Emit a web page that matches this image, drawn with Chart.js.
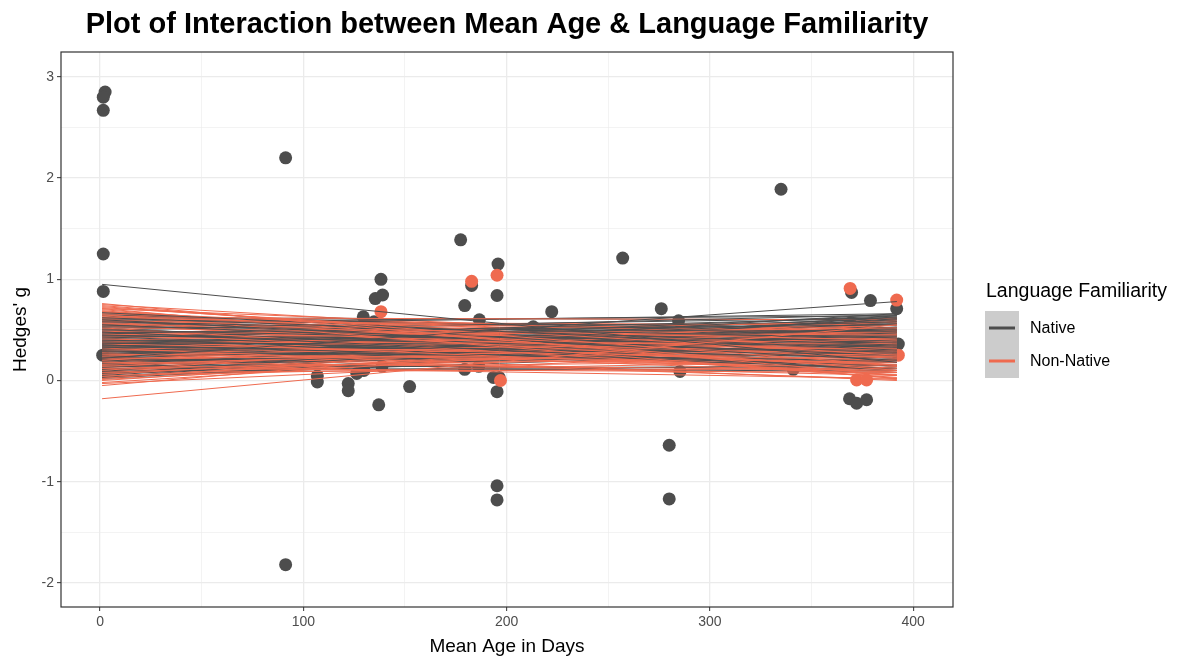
<!DOCTYPE html>
<html><head><meta charset="utf-8">
<script src="https://cdn.jsdelivr.net/npm/chart.js@4"></script>
<style>html,body{margin:0;padding:0;background:#fff;}canvas{display:block;}</style>
</head><body>
<canvas id="c" width="1189" height="658"></canvas>
<script>
// ---- data ----
const NATIVE_AGE = [2.5,1.6,1.6,1.6,1.6,1.3,91.3,91.3,106.9,106.9,122.1,122.1,126.3,129.5,129.8,134.8,135.4,137.1,138.2,139.0,138.7,152.3,177.4,179.4,179.4,182.8,186.6,186.3,193.5,196.3,195.3,195.3,195.3,195.8,195.3,213.1,222.2,257.1,276.1,284.6,285.3,280,280,335,341,369,369.7,368.7,372.2,377.1,379,391.9,392.7];
const NATIVE_G = [2.85,2.80,2.67,1.25,0.88,0.25,2.20,-1.82,0.045,-0.015,-0.03,-0.10,0.07,0.63,0.10,0.58,0.81,-0.24,1.00,0.845,0.14,-0.06,1.39,0.74,0.11,0.94,0.60,0.14,0.03,0.03,-0.11,-1.04,-1.18,1.15,0.84,0.53,0.68,1.21,0.71,0.59,0.09,-0.64,-1.17,1.89,0.11,0.565,0.87,-0.18,-0.225,-0.19,0.79,0.71,0.36];
const NONNATIVE_AGE = [138.2,182.8,195.3,197,369,391.9,392.7,372.2,377.1];
const NONNATIVE_G = [0.68,0.98,1.04,0.0,0.91,0.795,0.25,0.005,0.005];

const LINE_AGE = [1, 392];
const NATIVE_LINE_START = [0.95,0.22,0.67,0.62,0.60,0.58,0.55,0.53,0.50,0.48,0.47,0.45,0.44,0.42,0.40,0.39,0.37,0.36,0.35,0.34,0.33,0.32,0.30,0.29,0.28,0.27,0.25,0.24,0.23,0.21,0.20,0.19,0.17,0.16,0.14,0.13,0.11,0.10,0.08,0.06,0.05,0.03,0.52,0.46,0.38,0.31,0.26,0.57,0.43,0.35,
  0.62,0.58,0.55,0.50,0.12,0.09,0.15,0.18,0.65,0.60,0.54,0.49,0.45,0.41,0.37,0.33,0.29,0.26,0.22,0.19,0.15,0.11,0.07,0.04,0.02,0.64,0.59,0.51,0.47,0.44,0.39,0.36,0.31,0.28,0.24,0.21,0.18,0.13,0.09,0.06,0.66,0.61,0.56,0.48,0.42,0.38,0.34,0.30,0.23,0.16];
const NATIVE_LINE_END = [0.18,0.78,0.30,0.35,0.20,0.42,0.25,0.48,0.33,0.12,0.55,0.28,0.40,0.62,0.22,0.45,0.35,0.58,0.15,0.50,0.30,0.64,0.38,0.20,0.52,0.44,0.60,0.32,0.47,0.56,0.27,0.66,0.40,0.53,0.61,0.35,0.49,0.58,0.43,0.63,0.52,0.60,0.10,0.65,0.12,0.56,0.24,0.37,0.18,0.61,
  0.60,0.64,0.66,0.62,0.10,0.15,0.12,0.08,0.45,0.52,0.56,0.38,0.50,0.33,0.47,0.41,0.36,0.50,0.42,0.30,0.45,0.28,0.36,0.30,0.45,0.14,0.28,0.22,0.30,0.58,0.26,0.40,0.18,0.62,0.38,0.21,0.50,0.55,0.64,0.48,0.25,0.48,0.32,0.44,0.14,0.55,0.24,0.50,0.60,0.34];
const NONNATIVE_LINE_START = [-0.18,0.76,0.74,0.72,0.70,0.68,0.65,0.63,0.60,0.58,0.56,0.54,0.52,0.50,0.48,0.46,0.44,0.42,0.40,0.38,0.36,0.34,0.32,0.30,0.28,0.26,0.24,0.22,0.20,0.18,0.16,0.14,0.12,0.10,0.08,0.06,0.04,0.02,-0.02,-0.05,0.66,0.62,0.57,0.49,0.45,0.41,0.37,0.33,0.27,0.19,
  0.62,0.58,0.12,0.08,0.15,0.05,0.75,0.73,0.71,0.69,0.67,0.64,0.61,0.59,0.55,0.53,0.51,0.47,0.43,0.39,0.35,0.31,0.29,0.25,0.23,0.21,0.17,0.13,0.11,0.07,0.03,0.00,-0.03,0.71,0.68,0.64,0.60,0.55,0.52,0.48,0.44,0.40,0.36,0.32,0.28,0.24,0.20,0.16,0.09,0.01];
const NONNATIVE_LINE_END = [0.55,0.05,0.15,0.25,0.10,0.30,0.02,0.20,0.35,0.12,0.40,0.22,0.05,0.30,0.45,0.15,0.28,0.52,0.08,0.36,0.20,0.48,0.00,0.32,0.55,0.18,0.42,0.26,0.58,0.10,0.38,0.48,0.24,0.60,0.34,0.50,0.42,0.56,0.46,0.62,0.38,0.46,0.03,0.14,0.58,0.27,0.06,0.40,0.01,0.44,
  0.60,0.55,0.08,0.12,0.02,0.20,0.30,0.18,0.40,0.08,0.22,0.48,0.14,0.28,0.50,0.36,0.10,0.25,0.44,0.16,0.52,0.30,0.12,0.48,0.05,0.35,0.52,0.40,0.20,0.58,0.38,0.50,0.32,0.02,0.15,0.32,0.05,0.24,0.42,0.08,0.36,0.55,0.12,0.24,0.44,0.60,0.18,0.28,0.46,0.40];

const X_GRID = [0,50,100,150,200,250,300,350,400];
const X_LABELS = [0,100,200,300,400];
const Y_GRID = [-2,-1.5,-1,-0.5,0,0.5,1,1.5,2,2.5,3];
const Y_LABELS = [-2,-1,0,1,2,3];

const TITLE = "Plot of Interaction between Mean Age & Language Familiarity";
const X_TITLE = "Mean Age in Days";
const Y_TITLE = "Hedges' g";
const LEGEND_TITLE = "Language Familiarity";
const GROUPS = ["Native", "Non-Native"];
const COLORS = ["#4D4D4D", "#EF6A4F"];
const FONT = '"Liberation Sans", Arial, Helvetica, sans-serif';

// ---- datasets ----
const datasets = [];
const n = Math.max(NATIVE_LINE_START.length, NONNATIVE_LINE_START.length);
for (let i = 0; i < n; i++) {
  if (i < NONNATIVE_LINE_START.length) {
    datasets.push({type:'line', order:0, data:[{x:LINE_AGE[0], y:NONNATIVE_LINE_START[i]},{x:LINE_AGE[1], y:NONNATIVE_LINE_END[i]}],
      borderColor:COLORS[1], borderWidth:1, pointRadius:0, fill:false, tension:0});
  }
  if (i < NATIVE_LINE_START.length) {
    datasets.push({type:'line', order:0, data:[{x:LINE_AGE[0], y:NATIVE_LINE_START[i]},{x:LINE_AGE[1], y:NATIVE_LINE_END[i]}],
      borderColor:COLORS[0], borderWidth:1, pointRadius:0, fill:false, tension:0});
  }
}
datasets.push({type:'scatter', order:5, label:GROUPS[1], data:NONNATIVE_AGE.map((x,i)=>({x, y:NONNATIVE_G[i]})),
  backgroundColor:COLORS[1], borderWidth:0, pointRadius:6.5});
datasets.push({type:'scatter', order:6, label:GROUPS[0], data:NATIVE_AGE.map((x,i)=>({x, y:NATIVE_G[i]})),
  backgroundColor:COLORS[0], borderWidth:0, pointRadius:6.5});

const decor = {
  id:'decor',
  afterDatasetsDraw(chart){
    const {ctx, chartArea:a} = chart;
    ctx.save();
    ctx.strokeStyle = '#333333'; ctx.lineWidth = 1.2;
    ctx.strokeRect(a.left, a.top, a.right - a.left, a.bottom - a.top);
    ctx.restore();
  },
  afterDraw(chart){
    const {ctx, chartArea:a} = chart;
    ctx.save();
    ctx.fillStyle = '#000';
    ctx.font = 'bold 29px ' + FONT;
    ctx.textAlign = 'center'; ctx.textBaseline = 'middle';
    ctx.fillText(TITLE, (a.left + a.right)/2, 25);
    // legend
    ctx.textAlign = 'left';
    ctx.font = '19.5px ' + FONT;
    ctx.fillText(LEGEND_TITLE, 986, 292);
    ctx.fillStyle = '#CCCCCC';
    ctx.fillRect(985, 311, 34, 67);
    const ys = [328, 361];
    GROUPS.forEach((g, i) => {
      ctx.strokeStyle = COLORS[i]; ctx.lineWidth = 3;
      ctx.beginPath(); ctx.moveTo(989, ys[i]); ctx.lineTo(1015, ys[i]); ctx.stroke();
      ctx.fillStyle = '#000'; ctx.font = '16px ' + FONT;
      ctx.fillText(g, 1030, ys[i] + 1);
    });
    ctx.restore();
  }
};

const gridW = c => (c.tick && Number.isInteger(c.tick.value / (c.scale.axis === 'x' ? 100 : 1))) ? 1.3 : 0.6;

new Chart(document.getElementById('c'), {
  data:{datasets},
  options:{
    responsive:false, animation:false, devicePixelRatio:1,
    layout:{padding:{top:52, right:236, left:0, bottom:0}},
    plugins:{legend:{display:false}, tooltip:{enabled:false}, title:{display:false}},
    scales:{
      x:{type:'linear', min:-19.2, max:419.6,
        afterBuildTicks: s => { s.ticks = X_GRID.map(v => ({value:v})); },
        afterFit: s => { s.height = 51; },
        border:{display:false},
        grid:{color:'#EBEBEB', lineWidth:gridW, tickLength:4,
          tickColor: c => X_LABELS.includes(c.tick && c.tick.value) ? '#333333' : 'rgba(0,0,0,0)', tickWidth:1},
        ticks:{autoSkip:false, maxRotation:0, padding:3, color:'#4D4D4D', font:{family:FONT, size:14},
          callback: v => X_LABELS.includes(v) ? String(v) : ''},
        title:{display:true, text:X_TITLE, color:'#000', font:{family:FONT, size:19}, padding:{top:0, bottom:0}}
      },
      y:{type:'linear', min:-2.238, max:3.246,
        afterBuildTicks: s => { s.ticks = Y_GRID.map(v => ({value:v})); },
        afterFit: s => { s.width = 61; },
        border:{display:false},
        grid:{color:'#EBEBEB', lineWidth:gridW, tickLength:4,
          tickColor: c => Y_LABELS.includes(c.tick && c.tick.value) ? '#333333' : 'rgba(0,0,0,0)', tickWidth:1},
        ticks:{autoSkip:false, padding:3, color:'#4D4D4D', font:{family:FONT, size:14},
          callback: v => Y_LABELS.includes(v) ? String(v) : ''},
        title:{display:true, text:Y_TITLE, color:'#000', font:{family:FONT, size:19}, padding:{top:9, bottom:0}}
      }
    }
  },
  plugins:[decor]
});
</script>
</body></html>
